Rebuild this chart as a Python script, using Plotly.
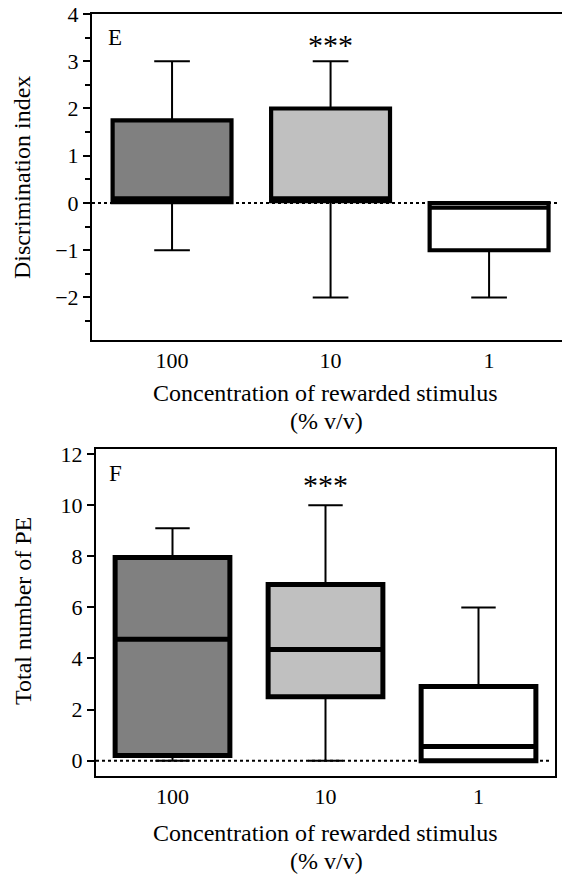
import plotly.graph_objects as go

# ---- data ----
categories = ["100", "10", "1"]
fills = ["#808080", "#c0c0c0", "#ffffff"]

# Panel E: Discrimination index
e_lower = [-1, -2, -2]
e_q1 = [0.02, 0.04, -1]
e_median = [0.1, 0.1, -0.1]
e_q3 = [1.75, 2.0, 0.0]
e_upper = [3, 3, 0]
e_sig = ["", "***", ""]
e_sig_y = 3.35

# Panel F: Total number of PE
f_lower = [0, 0, 0]
f_q1 = [0.2, 2.5, 0.0]
f_median = [4.75, 4.35, 0.55]
f_q3 = [7.95, 6.9, 2.9]
f_upper = [9.1, 10, 6]
f_sig = ["", "***", ""]
f_sig_y = 10.8

E_ticks = [-2, -1, 0, 1, 2, 3, 4]
F_ticks = [0, 2, 4, 6, 8, 10, 12]

W, H = 562, 874
FONT = "Liberation Serif"

fig = go.Figure()


def add_panel(xa, ya, lower, q1, med, q3, upper, lw):
    for i, c in enumerate(categories):
        # whiskers (thin)
        fig.add_trace(go.Box(
            x=[c], q1=[q1[i]], median=[med[i]], q3=[q3[i]],
            lowerfence=[lower[i]], upperfence=[upper[i]],
            width=0.75, whiskerwidth=0.3,
            line=dict(color="black", width=2),
            fillcolor="rgba(0,0,0,0)",
            xaxis=xa, yaxis=ya, showlegend=False, hoverinfo="skip",
        ))
        # box body (thick)
        fig.add_trace(go.Box(
            x=[c], q1=[q1[i]], median=[med[i]], q3=[q3[i]],
            lowerfence=[q1[i]], upperfence=[q3[i]],
            width=0.75, whiskerwidth=0,
            line=dict(color="black", width=lw),
            fillcolor=fills[i],
            xaxis=xa, yaxis=ya, showlegend=False, hoverinfo="skip",
        ))


add_panel("x", "y", e_lower, e_q1, e_median, e_q3, e_upper, 4.2)
add_panel("x2", "y2", f_lower, f_q1, f_median, f_q3, f_upper, 5)

# significance markers (x given as category index)
sigfont = dict(family=FONT, size=30, color="black")
for i, c in enumerate(categories):
    if e_sig[i]:
        fig.add_annotation(x=i, y=e_sig_y, xref="x", yref="y", text=e_sig[i],
                           showarrow=False, xanchor="center", yanchor="middle",
                           font=sigfont)
    if f_sig[i]:
        fig.add_annotation(x=i, y=f_sig_y, xref="x2", yref="y2", text=f_sig[i],
                           showarrow=False, xanchor="center", yanchor="middle",
                           font=sigfont)

# zero reference lines
fig.add_shape(type="line", xref="x domain", yref="y", x0=0, x1=0.995, y0=0, y1=0,
              line=dict(color="black", width=2, dash="dot"))
fig.add_shape(type="line", xref="x2 domain", yref="y2", x0=0, x1=0.99, y0=0, y1=0,
              line=dict(color="black", width=2, dash="dot"))

tickfont = dict(family=FONT, size=22, color="black")
axcommon = dict(showgrid=False, zeroline=False, linecolor="black", showline=True,
                automargin=False)

fig.update_layout(
    template="none",
    font=dict(family=FONT, color="black"),
    width=W, height=H,
    margin=dict(l=0, r=0, t=0, b=0, pad=0),
    paper_bgcolor="white", plot_bgcolor="white",
    boxmode="overlay",
    showlegend=False,
    xaxis=dict(domain=[92 / W, 1.0], anchor="y", type="category",
               categoryorder="array", categoryarray=categories,
               range=[-0.505, 2.46], ticks="", tickfont=tickfont,
               mirror=True, linewidth=2, **axcommon),
    yaxis=dict(domain=[1 - 340 / H, 1 - 14 / H], anchor="x",
               range=[-2.9, 4], tickvals=E_ticks, ticks="outside", ticklen=7,
               tickwidth=2, tickcolor="black", tickfont=tickfont,
               minor=dict(dtick=0.5, tick0=0.5, ticks="outside", ticklen=5,
                          tickwidth=2, tickcolor="black", showgrid=False),
               linewidth=2, **axcommon),
    xaxis2=dict(domain=[96 / W, 555 / W], anchor="y2", type="category",
                categoryorder="array", categoryarray=categories,
                range=[-0.5, 2.5], ticks="", tickfont=tickfont,
                mirror=True, linewidth=2, **axcommon),
    yaxis2=dict(domain=[1 - 776 / H, 1 - 449 / H], anchor="x2",
                range=[-0.6, 12.2], tickvals=F_ticks, ticks="outside", ticklen=7,
                tickwidth=2, tickcolor="black", tickfont=tickfont,
                mirror=True, linewidth=2, **axcommon),
)

titlefont = dict(family=FONT, size=24, color="black")
ann = [
    # panel letters
    dict(x=115 / W, y=1 - 38 / H, text="E", font=dict(family=FONT, size=23, color="black")),
    dict(x=115 / W, y=1 - 473 / H, text="F", font=dict(family=FONT, size=23, color="black")),
    # x titles
    dict(x=325 / W, y=1 - 393 / H, text="Concentration of rewarded stimulus", font=titlefont),
    dict(x=326 / W, y=1 - 421 / H, text="(% v/v)", font=titlefont),
    dict(x=325 / W, y=1 - 833 / H, text="Concentration of rewarded stimulus", font=titlefont),
    dict(x=326 / W, y=1 - 861 / H, text="(% v/v)", font=titlefont),
]
for a in ann:
    fig.add_annotation(xref="paper", yref="paper", showarrow=False,
                       xanchor="center", yanchor="middle", **a)
fig.add_annotation(xref="paper", yref="paper", x=22 / W, y=1 - 178 / H,
                   text="Discrimination index", textangle=-90, showarrow=False,
                   xanchor="center", yanchor="middle", font=titlefont)
fig.add_annotation(xref="paper", yref="paper", x=23 / W, y=1 - 611 / H,
                   text="Total number of PE", textangle=-90, showarrow=False,
                   xanchor="center", yanchor="middle", font=titlefont)

fig.write_html("out.html", config={"displayModeBar": False},
               post_script="document.body.style.margin='0';document.body.style.padding='0';")
